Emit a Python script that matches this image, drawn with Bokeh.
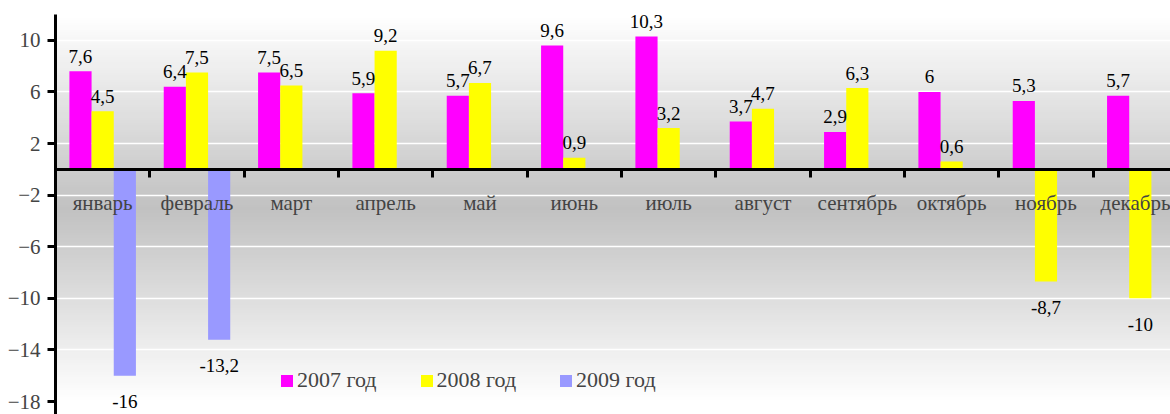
import numpy as np
from bokeh.plotting import figure
from bokeh.models import (Range1d, LinearAxis, FixedTicker, ColumnDataSource,
                          Legend, LegendItem)
from bokeh.embed import file_html
from bokeh.resources import INLINE
from bokeh.core.properties import value

# ---- data ----
months = ["январь", "февраль", "март", "апрель", "май", "июнь",
          "июль", "август", "сентябрь", "октябрь", "ноябрь", "декабрь"]
y2007 = [7.6, 6.4, 7.5, 5.9, 5.7, 9.6, 10.3, 3.7, 2.9, 6, 5.3, 5.7]
y2008 = [4.5, 7.5, 6.5, 9.2, 6.7, 0.9, 3.2, 4.7, 6.3, 0.6, -8.7, -10]
y2009 = [-16, -13.2]
series_names = ["2007 год", "2008 год", "2009 год"]
y_ticks = [-18, -14, -10, -6, -2, 2, 6, 10]

# ---- style ----
colors = ["#FF00FF", "#FFFF00", "#9999FF"]
FONT = "Liberation Serif"
W = 0.235
Y0, Y1 = -19.0, 12.0


def fmt(v):
    return ("%g" % v).replace(".", ",")


p = figure(width=1170, height=414, output_backend="svg", toolbar_location=None,
           x_range=Range1d(0, 11.82), y_range=Range1d(Y0, Y1),
           x_axis_type=None, min_border_left=55, min_border_top=14,
           min_border_bottom=0, min_border_right=0)
p.outline_line_color = None
p.background_fill_color = "white"
p.border_fill_color = "white"

# background gradient (white - gray - white), drawn below grid
n = 160
edges = np.linspace(Y0, Y1, n + 1)
mids = (edges[:-1] + edges[1:]) / 2
mid = (-18 + 12) / 2
half = 15.0
t = np.clip(1 - np.abs(mids - mid) / half, 0, 1)
g = np.clip(np.round(255 - 62 * t), 0, 255).astype(int)
bg_cols = ["#%02x%02x%02x" % (v, v, v) for v in g]
p.quad(left=0, right=12, bottom=edges[:-1], top=edges[1:],
       fill_color=bg_cols, line_color=bg_cols, line_width=1, level="image")

# grid
p.ygrid.ticker = FixedTicker(ticks=y_ticks)
p.ygrid.grid_line_color = "white"
p.ygrid.grid_line_width = 1.5

# bars
series = [y2007, y2008, y2009]
offsets = [-W, 0.0, W]
renderers = []
lab_x, lab_y, lab_t, lab_off = [], [], [], []
for vals, off, col in zip(series, offsets, colors):
    xs = [i + 0.5 + off for i in range(len(vals))]
    src = ColumnDataSource(dict(x=xs, top=vals))
    r = p.vbar(x="x", top="top", bottom=0, width=W, source=src,
               fill_color=col, line_color=None)
    renderers.append(r)
    for xv, v in zip(xs, vals):
        lab_x.append(xv)
        lab_y.append(v)
        lab_t.append(fmt(v))
        lab_off.append(-15 if v >= 0 else 26)

lsrc = ColumnDataSource(dict(x=lab_x, y=lab_y, t=lab_t, off=lab_off))
p.text(x="x", y="y", text="t", y_offset="off", source=lsrc,
       text_align="center", text_baseline="alphabetic",
       text_font=value(FONT), text_font_size="19px", text_color="black")

# y axis
ya = p.yaxis[0]
ya.ticker = FixedTicker(ticks=y_ticks)
ya.axis_line_width = 3
ya.axis_line_color = "black"
ya.major_tick_out = 8
ya.major_tick_in = 0
ya.major_tick_line_width = 3
ya.minor_tick_line_color = None
ya.major_label_text_font = FONT
ya.major_label_text_font_size = "21px"
ya.major_label_standoff = 7

# x axis line at zero with ticks at category boundaries
xa = LinearAxis(fixed_location=0, ticker=FixedTicker(ticks=list(range(1, 12))),
                axis_line_width=3, axis_line_color="black",
                major_tick_out=8, major_tick_in=0, major_tick_line_width=3,
                minor_tick_line_color=None, major_label_text_color=None)
p.add_layout(xa, "below")

# month labels
centers = [i + 0.5 for i in range(len(months))]
ma = LinearAxis(fixed_location=0, ticker=FixedTicker(ticks=centers),
                major_label_overrides={float(c): m for c, m in zip(centers, months)},
                axis_line_color=None, major_tick_line_color=None,
                minor_tick_line_color=None, major_tick_out=0, major_tick_in=0,
                major_label_standoff=22, major_label_text_font=FONT,
                major_label_text_font_size="21px")
p.add_layout(ma, "below")

legend = Legend(items=[LegendItem(label=nm, renderers=[r])
                       for nm, r in zip(series_names, renderers)],
                orientation="horizontal", location=(224, 21),
                background_fill_alpha=0, border_line_color=None,
                padding=0, margin=0, spacing=42,
                glyph_width=15, glyph_height=15, label_standoff=3,
                label_height=15, label_text_font=FONT,
                label_text_font_size="22px", label_text_baseline="middle")
p.add_layout(legend)

open("out.html", "w").write(file_html(p, INLINE))
